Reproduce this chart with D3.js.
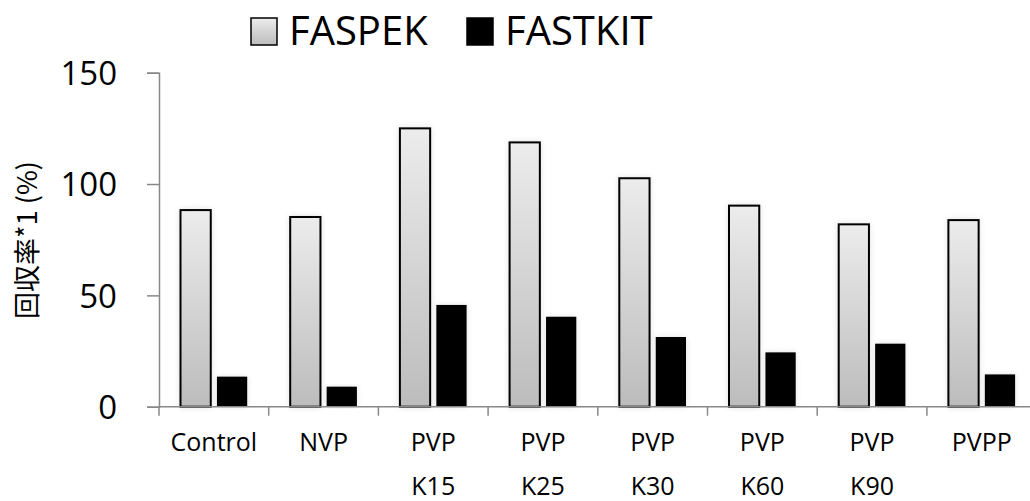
<!DOCTYPE html>
<html>
<head>
<meta charset="utf-8">
<script src="https://cdn.jsdelivr.net/npm/d3@7"></script>
<style>
  body { margin: 0; background: #fff; }
  text { font-family: "Open Sans", Lato, sans-serif; fill: #000; }
</style>
</head>
<body>
<div id="chart"></div>
<script>
// data
const categories = ["Control", "NVP", "PVP\nK15", "PVP\nK25", "PVP\nK30", "PVP\nK60", "PVP\nK90", "PVPP"];
const seriesNames = ["FASPEK", "FASTKIT"];
const faspek = [88.3, 85.2, 125.0, 118.7, 102.6, 90.3, 81.9, 83.8];
const fastkit = [13.5, 9.0, 45.7, 40.4, 31.3, 24.4, 28.3, 14.5];
const yTicks = [0, 50, 100, 150];

const W = 1030, H = 501;
const left = 159, step = 109.7;

const svg = d3.select("#chart").append("svg")
    .attr("width", W)
    .attr("height", H);

// gradient + soft shadow
const defs = svg.append("defs");
const grad = defs.append("linearGradient")
    .attr("id", "grayGrad")
    .attr("x1", 0).attr("y1", 0).attr("x2", 0).attr("y2", 1);
grad.append("stop").attr("offset", "0%").attr("stop-color", "#ececec");
grad.append("stop").attr("offset", "100%").attr("stop-color", "#bcbcbc");

const filt = defs.append("filter").attr("id", "glow")
    .attr("x", "-40%").attr("y", "-10%").attr("width", "180%").attr("height", "120%");
filt.append("feGaussianBlur").attr("in", "SourceAlpha").attr("stdDeviation", 3).attr("result", "b");
filt.append("feComponentTransfer").attr("in", "b").attr("result", "c")
    .append("feFuncA").attr("type", "linear").attr("slope", 0.12);
const merge = filt.append("feMerge");
merge.append("feMergeNode").attr("in", "c");
merge.append("feMergeNode").attr("in", "SourceGraphic");

// scales
const x0 = d3.scaleBand()
    .domain(categories)
    .range([left, left + step * categories.length]);

const x1 = d3.scaleBand()
    .domain(seriesNames)
    .range([21.5, 88.2])
    .paddingInner(0.17);

const y = d3.scaleLinear()
    .domain([0, 150])
    .range([406.7, 72.7]);

const rows = categories.map((c, i) => ({ cat: c, values: [faspek[i], fastkit[i]] }));

// bars
const groups = svg.append("g").selectAll("g")
    .data(rows)
    .enter().append("g")
    .attr("transform", d => "translate(" + x0(d.cat) + ",0)");

groups.selectAll("rect")
    .data(d => d.values.map((v, j) => ({ key: seriesNames[j], value: v })))
    .enter().append("rect")
    .attr("x", d => x1(d.key))
    .attr("y", d => y(d.value))
    .attr("width", x1.bandwidth())
    .attr("height", d => y(0) - y(d.value))
    .attr("fill", d => d.key === "FASPEK" ? "url(#grayGrad)" : "#000")
    .attr("stroke", "#000")
    .attr("stroke-width", d => d.key === "FASPEK" ? 2 : 0)
    .attr("filter", "url(#glow)");

// y axis
const yAxis = svg.append("g")
    .attr("transform", "translate(" + left + ",0)")
    .call(d3.axisLeft(y).tickValues(yTicks).tickSize(12).tickFormat(d3.format("d")));
yAxis.select(".domain").attr("stroke", "#888").attr("stroke-width", 1.5);
yAxis.selectAll(".tick line").attr("stroke", "#888").attr("stroke-width", 1.5);
yAxis.selectAll(".tick text")
    .attr("x", -42)
    .attr("dy", "0.36em")
    .style("font-size", "33px");

// x axis
svg.append("line")
    .attr("x1", left).attr("x2", W)
    .attr("y1", y(0)).attr("y2", y(0))
    .attr("stroke", "#888").attr("stroke-width", 1.5);

svg.append("g").selectAll("line")
    .data(categories)
    .enter().append("line")
    .attr("x1", d => x0(d)).attr("x2", d => x0(d))
    .attr("y1", y(0)).attr("y2", y(0) + 9)
    .attr("stroke", "#888").attr("stroke-width", 1.5);

const xLabels = svg.append("g").selectAll("text")
    .data(categories)
    .enter().append("text")
    .attr("text-anchor", "middle")
    .attr("x", d => x0(d) + x0.bandwidth() / 2)
    .attr("y", 451)
    .style("font-size", "25px");
xLabels.each(function(d) {
    const lines = d.split("\n");
    const t = d3.select(this);
    lines.forEach((ln, k) => {
        t.append("tspan")
            .attr("x", t.attr("x"))
            .attr("dy", k === 0 ? 0 : 44)
            .text(ln);
    });
});

// y axis title
svg.append("text")
    .attr("text-anchor", "middle")
    .attr("dy", "0.36em")
    .attr("transform", "translate(27,240) rotate(-90)")
    .style("font-size", "27px")
    .style("font-family", "'Noto Sans CJK JP', 'Open Sans', sans-serif")
    .text("回収率*1 (%)");

// legend
const legendX = [251, 467];
const legend = svg.append("g").selectAll("g")
    .data(seriesNames)
    .enter().append("g")
    .attr("transform", (d, i) => "translate(" + legendX[i] + ",18)");
legend.append("rect")
    .attr("width", 26).attr("height", 27)
    .attr("fill", d => d === "FASPEK" ? "url(#grayGrad)" : "#000")
    .attr("stroke", "#000")
    .attr("stroke-width", 1.5);
legend.append("text")
    .attr("x", 38)
    .attr("y", 27)
    .style("font-size", "40px")
    .text(d => d);
</script>
</body>
</html>
